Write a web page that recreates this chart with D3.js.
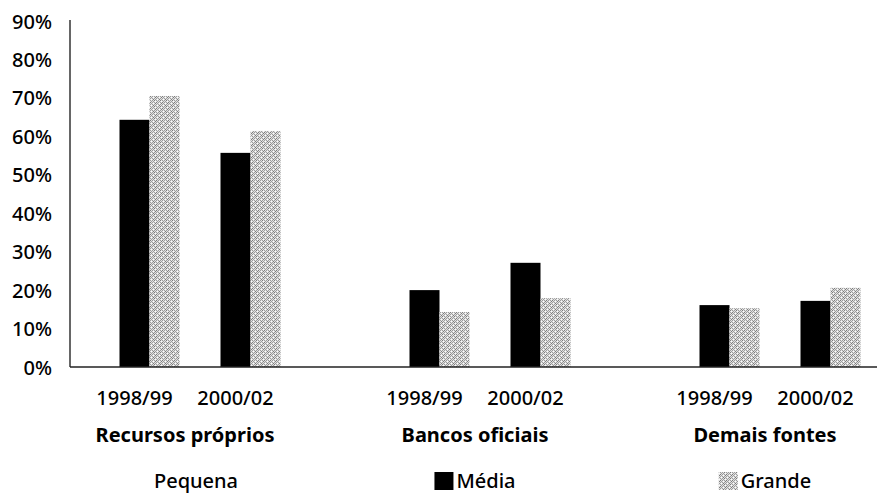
<!DOCTYPE html>
<html>
<head>
<meta charset="utf-8">
<script src="https://cdn.jsdelivr.net/npm/d3@7"></script>
<style>
  html, body { margin: 0; padding: 0; background: #fff; }
  svg { display: block; font-family: "Noto Sans", "Open Sans", sans-serif; }
</style>
</head>
<body>
<svg id="chart" width="881" height="495"></svg>
<script>
// ---- data ----
const groups = ["Recursos próprios", "Bancos oficiais", "Demais fontes"];
const periods = ["1998/99", "2000/02"];
const series = ["Pequena", "Média", "Grande"];
// values in %, order: groups x periods ; Pequena not visible in the picture (drawn white)
const pequena = [null, null, null, null, null, null];
const media   = [64.3, 55.7, 20.0, 27.1, 16.1, 17.2];
const grande  = [70.5, 61.4, 14.3, 17.9, 15.3, 20.6];
const yTicks = [0, 10, 20, 30, 40, 50, 60, 70, 80, 90];

const valuesBySeries = { "Pequena": pequena, "Média": media, "Grande": grande };

const svg = d3.select("#chart");

// pattern for Grande (light dithered grey)
const defs = svg.append("defs");
const pat = defs.append("pattern")
  .attr("id", "dots").attr("patternUnits", "userSpaceOnUse")
  .attr("width", 6).attr("height", 6);
pat.append("rect").attr("width", 6).attr("height", 6).attr("fill", "#e2e2e2");
const darkPix = [[0,0],[2,0],[4,0],[1,1],[5,1],[0,2],[2,2],[4,2],[3,3],[5,3],[0,4],[2,4],[4,4],[1,5],[3,5]];
darkPix.forEach(([px, py], i) => {
  pat.append("rect").attr("x", px).attr("y", py).attr("width", 1).attr("height", 1)
    .attr("fill", i % 4 === 0 ? "#7c7c7c" : "#9c9c9c");
});
[[3,1],[1,3],[5,5]].forEach(([px, py]) => {
  pat.append("rect").attr("x", px).attr("y", py).attr("width", 1).attr("height", 1).attr("fill", "#fafafa");
});

const fills = { "Pequena": "#ffffff", "Média": "#000000", "Grande": "url(#dots)" };

// scales
const y = d3.scaleLinear().domain([0, 90]).range([367, 21]);
const x0 = d3.scaleBand().domain(groups).range([40, 910]);
const x1 = d3.scaleBand().domain(periods).range([44, 246]);
const x2 = d3.scaleBand().domain(series).range([5.5, 95.5]);

// y axis labels
const yAxis = d3.axisLeft(y).tickValues(yTicks).tickFormat(d => d + "%").tickSize(0).tickPadding(18);
const ga = svg.append("g").attr("transform", "translate(70,0)").call(yAxis);
ga.select(".domain").remove();
ga.selectAll("text").attr("font-size", 20).attr("fill", "#000")
  .attr("font-family", "'Noto Sans', sans-serif").attr("font-weight", 500).attr("dy", "0.35em");

// bars
const barData = [];
groups.forEach((g, gi) => {
  periods.forEach((p, pi) => {
    series.forEach(s => {
      const v = valuesBySeries[s][gi * periods.length + pi];
      if (v !== null) barData.push({ g, p, s, v });
    });
  });
});
svg.append("g").selectAll("rect").data(barData).join("rect")
  .attr("x", d => x0(d.g) + x1(d.p) + x2(d.s))
  .attr("width", x2.bandwidth())
  .attr("y", d => y(d.v))
  .attr("height", d => y(0) - y(d.v))
  .attr("fill", d => fills[d.s]);

// axis lines
svg.append("line").attr("x1", 70).attr("x2", 70).attr("y1", y(90) - 1).attr("y2", y(0))
  .attr("stroke", "#333").attr("stroke-width", 1.5);
svg.append("line").attr("x1", 70).attr("x2", 877).attr("y1", y(0)).attr("y2", y(0))
  .attr("stroke", "#222").attr("stroke-width", 1.5);

// period labels and group labels
groups.forEach(g => {
  periods.forEach(p => {
    svg.append("text")
      .attr("x", x0(g) + x1(p) + x1.bandwidth() / 2)
      .attr("y", 405)
      .attr("text-anchor", "middle")
      .attr("font-size", 20).attr("font-weight", 500).attr("fill", "#000")
      .text(p);
  });
  svg.append("text")
    .attr("x", x0(g) + x0.bandwidth() / 2)
    .attr("y", 442)
    .attr("text-anchor", "middle")
    .attr("font-size", 20).attr("font-weight", "bold").attr("fill", "#000")
    .text(g);
});

// legend: each item centred under a group
series.forEach((s, i) => {
  const cx = x0(groups[i]) + x0.bandwidth() / 2;
  const item = svg.append("g");
  const t = item.append("text").attr("y", 488).attr("font-size", 20)
    .attr("font-weight", 500).attr("fill", "#000").text(s);
  const tw = t.node().getComputedTextLength();
  const sw = 19, gap = 3;
  const total = sw + gap + tw;
  const left = cx - total / 2;
  item.append("rect").attr("x", left).attr("y", 472).attr("width", sw).attr("height", 18)
    .attr("fill", fills[s]);
  t.attr("x", left + sw + gap);
});
</script>
</body>
</html>
